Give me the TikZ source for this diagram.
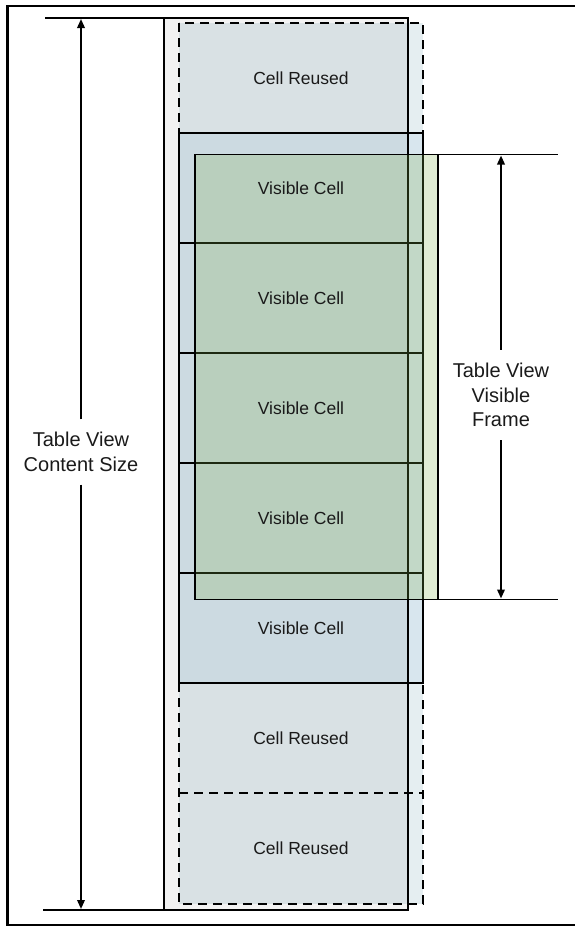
\documentclass[tikz,border=0pt]{standalone}
\usepackage{fontspec}
\setmainfont{Liberation Sans}
\usetikzlibrary{arrows.meta}
\definecolor{txt}{HTML}{1A1A1A}
\definecolor{reusefill}{HTML}{E5EEF1}
\definecolor{bluefill}{HTML}{D8E6EE}
\definecolor{greenfill}{RGB}{125,175,75}
\begin{document}
\begin{tikzpicture}[x=1pt,y=-1pt,line width=1.9pt,
  celltext/.style={text=txt,font=\fontsize{17.5}{20}\selectfont,inner sep=0pt},
  dimlabel/.style={text=txt,font=\fontsize{20}{24.8}\selectfont,align=center,inner xsep=0pt,inner ysep=12pt},
  dashline/.style={dash pattern=on 9pt off 6pt},
  tip/.style={-{Triangle[length=9pt,width=7.5pt]}}]
\useasboundingbox (0,0) rectangle (575,927);
% outer frame
\draw[line width=2.6pt] (7.5,6) rectangle (578,925);
% dashed table column (reused cells)
\fill[reusefill] (179,23) rectangle (423,904);
\draw[dashline] (179,23) rectangle (423,904);
\draw[dashline] (179,793) -- (423,793);
% visible cells block
\filldraw[fill=bluefill,draw=black] (179,133) rectangle (423,683);
\foreach \yy in {243,353,463,573} \draw (179,\yy) -- (423,\yy);
% content size (gray) rectangle
\filldraw[fill=black,fill opacity=0.05,draw=black] (164,18) rectangle (408,910);
% visible frame (green) rectangle
\filldraw[fill=greenfill,fill opacity=0.24,draw=black] (195,154.5) rectangle (438,599.5);
% cell texts
\node[celltext] (r1) at (301,78) {Cell Reused};
\node[celltext] (v1) at (301,188) {Visible Cell};
\node[celltext] (v2) at (301,298) {Visible Cell};
\node[celltext] (v3) at (301,408) {Visible Cell};
\node[celltext] (v4) at (301,518) {Visible Cell};
\node[celltext] (v5) at (301,628) {Visible Cell};
\node[celltext] (r2) at (301,738) {Cell Reused};
\node[celltext] (r3) at (301,848) {Cell Reused};
% extension lines
\coordinate (cstopL) at (45,18);
\coordinate (cstopR) at (164,18);
\coordinate (csbotL) at (43,910);
\coordinate (csbotR) at (164,910);
\coordinate (vftopL) at (438,154.5);
\coordinate (vftopR) at (558,154.5);
\coordinate (vfbotL) at (438,599.5);
\coordinate (vfbotR) at (558,599.5);
\draw (cstopL) -- (cstopR);
\draw (csbotL) -- (csbotR);
\draw (vftopL) -- (vftopR);
\draw (vfbotL) -- (vfbotR);
% dimension labels and arrows
\node[dimlabel] (cs) at (81,452) {Table View\\Content Size};
\node[dimlabel] (vf) at (501,395) {Table View\\Visible\\Frame};
\coordinate (csA) at (81,19);
\coordinate (csB) at (81,909);
\coordinate (vfA) at (501,155.5);
\coordinate (vfB) at (501,598.5);
\draw[tip] (cs.north) -- (csA);
\draw[tip] (cs.south) -- (csB);
\draw[tip] (vf.north) -- (vfA);
\draw[tip] (vf.south) -- (vfB);
\end{tikzpicture}
\end{document}
